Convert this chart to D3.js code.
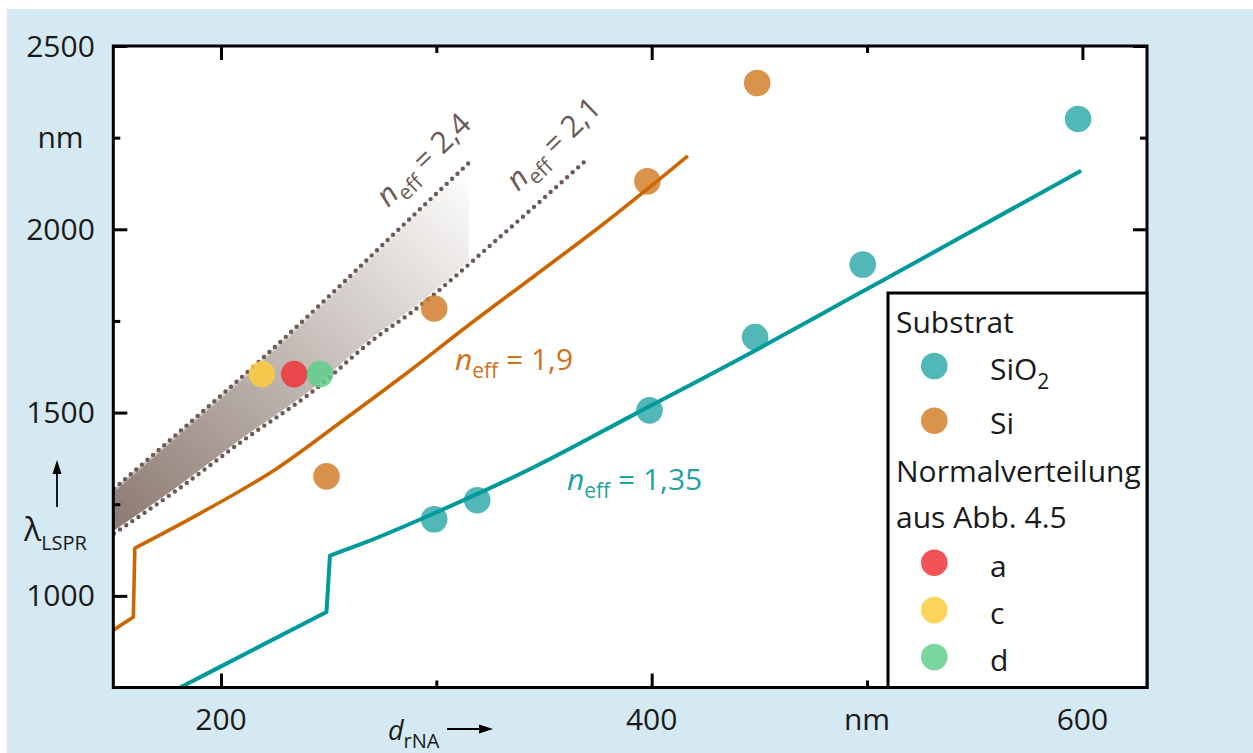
<!DOCTYPE html>
<html><head><meta charset="utf-8">
<script src="https://cdn.jsdelivr.net/npm/d3@7"></script>
<style>
body{margin:0;background:#ffffff}
svg{display:block}
text{font-family:"Open Sans","Noto Sans",sans-serif}
</style></head>
<body>
<svg id="chart" width="1253" height="753"></svg>
<script>
// ---------- data ----------
const xMajorTicks = [200, 400, 600];
const xMinorTicks = [300, 500];
const xTickLabels = [[200, "200"], [400, "400"], [500, "nm"], [600, "600"]];
const yMajorTicks = [1000, 1500, 2000, 2500];
const yMinorTicks = [1250, 1750, 2250];
const yTickLabels = [[1000, "1000"], [1500, "1500"], [2000, "2000"], [2250, "nm"], [2500, "2500"]];

// measured points: Substrat SiO2 and Si
const sio2D = [299, 319, 399, 448, 498, 598];
const sio2L = [1209, 1261, 1506, 1706, 1904, 2301];
const siD = [249, 299, 398, 449];
const siL = [1326, 1784, 2131, 2399];

// Normalverteilung aus Abb. 4.5
const normNames = ["a", "c", "d"];
const normD = [234, 219, 246];
const normL = [1605, 1605, 1605];

// simulated curves
const n135D = [181, 215, 249, 250.6, 267.6, 298.5, 345, 391.3, 445.5, 491.9, 538.3, 584.7, 599.4];
const n135L = [750, 853, 956, 1110, 1147, 1224, 1350, 1493, 1661, 1811, 1961, 2112, 2160];
const n19D = [150, 159.3, 160, 190.3, 225.8, 256.8, 287.7, 314, 344.9, 375.9, 406.8, 416.8];
const n19L = [906, 942, 1130, 1225, 1347, 1479, 1614, 1734, 1870, 2007, 2152, 2200];
const n24D = [150.3, 181, 214.8, 248.3, 283.1, 315.1];
const n24L = [1292, 1449, 1624, 1807, 2003, 2181];
const n21D = [150.3, 179.4, 210.3, 241.3, 272.3, 287.7, 329.5, 370.4];
const n21L = [1170, 1288, 1424, 1552, 1706, 1770, 1979, 2193];

// ---------- styles ----------
const C = {
  bg: "#d4e9f1",
  teal: "#009a9a", orange: "#cc6600", dots: "#6b5a55",
  tealText: "#1fa2a2", orangeText: "#d2701a",
  sio2: "#33abab", si: "#d3802c",
  norm: {a: "#f03538", c: "#fecb3d", d: "#60cf8d"}
};
const ptOpacity = 0.85;

const svg = d3.select("#chart");
const W = 1253, H = 753;
const L = 113.3, R = 1147, T = 46, B = 687.5;

const x = d3.scaleLinear().domain([150, 630]).range([L, R]);
const y = d3.scaleLinear().domain([750, 2500]).range([B, T]);

// background
svg.append("rect").attr("x", 0).attr("y", 0).attr("width", W).attr("height", H).attr("fill", "#fff");
svg.append("rect").attr("x", 7).attr("y", 9).attr("width", W - 7).attr("height", H - 9).attr("fill", C.bg);
svg.append("rect").attr("x", L).attr("y", T).attr("width", R - L).attr("height", B - T).attr("fill", "#fff");

const defs = svg.append("defs");
defs.append("clipPath").attr("id", "plotclip").append("rect")
  .attr("x", L).attr("y", T).attr("width", R - L).attr("height", B - T);
const grad = defs.append("linearGradient").attr("id", "band")
  .attr("gradientUnits", "userSpaceOnUse")
  .attr("x1", 113).attr("y1", 540).attr("x2", 470).attr("y2", 165);
grad.append("stop").attr("offset", 0).attr("stop-color", "#8a786f");
grad.append("stop").attr("offset", 0.5).attr("stop-color", "#c3bab5");
grad.append("stop").attr("offset", 1).attr("stop-color", "#ffffff");

const g = svg.append("g").attr("clip-path", "url(#plotclip)");

// shaded band between n_eff = 2.4 and 2.1
const zip = (a, b) => a.map((v, i) => [v, b[i]]);
const lowerAt = d3.scaleLinear().domain(n21D).range(n21L);
const xEnd = n24D[n24D.length - 1];
const bandPts = zip(n24D, n24L)
  .concat([[xEnd, lowerAt(xEnd)]])
  .concat(zip(n21D, n21L).filter(p => p[0] < xEnd).reverse());
g.append("path")
  .attr("d", d3.line().x(p => x(p[0])).y(p => y(p[1]))(bandPts) + "Z")
  .attr("fill", "url(#band)");

const smooth = d3.line().x(p => x(p[0])).y(p => y(p[1])).curve(d3.curveMonotoneX);
const straight = d3.line().x(p => x(p[0])).y(p => y(p[1]));
// path that keeps the mode-jumps sharp: smooth branches joined by straight steps
function jumpPath(dArr, lArr) {
  const pts = zip(dArr, lArr);
  const branches = [[pts[0]]];
  for (let i = 1; i < pts.length; i++) {
    if (pts[i][0] - pts[i - 1][0] < 3) branches.push([]);
    branches[branches.length - 1].push(pts[i]);
  }
  return branches.map((b, i) => {
    const s = b.length > 2 ? smooth(b) : straight(b);
    return i === 0 ? s : s.replace(/^M/, "L");
  }).join("");
}

// dotted curves
g.append("path").attr("d", smooth(zip(n21D, n21L)))
  .attr("fill", "none").attr("stroke", "#fff").attr("stroke-width", 5);
g.append("path").attr("d", smooth(zip(n24D, n24L)))
  .attr("fill", "none").attr("stroke", "#fff").attr("stroke-opacity", 0.45).attr("stroke-width", 5);
[[n24D, n24L], [n21D, n21L]].forEach(([d, l]) => {
  g.append("path").attr("d", smooth(zip(d, l)))
    .attr("fill", "none").attr("stroke", C.dots).attr("stroke-width", 4.4)
    .attr("stroke-linecap", "round").attr("stroke-dasharray", "0 7.4");
});

// points
const pts = g.append("g").attr("opacity", ptOpacity);
pts.selectAll("circle.sio2").data(zip(sio2D, sio2L)).join("circle")
  .attr("cx", p => x(p[0])).attr("cy", p => y(p[1])).attr("r", 13.3).attr("fill", C.sio2);
pts.selectAll("circle.si").data(zip(siD, siL)).join("circle")
  .attr("cx", p => x(p[0])).attr("cy", p => y(p[1])).attr("r", 13.3).attr("fill", C.si);
normNames.forEach((n, i) => {
  pts.append("circle").attr("cx", x(normD[i])).attr("cy", y(normL[i])).attr("r", 13.3).attr("fill", C.norm[n]);
});

// solid curves
g.append("path").attr("d", jumpPath(n19D, n19L))
  .attr("fill", "none").attr("stroke", C.orange).attr("stroke-width", 3.6).attr("stroke-linejoin", "round");
g.append("path").attr("d", jumpPath(n135D, n135L))
  .attr("fill", "none").attr("stroke", C.teal).attr("stroke-width", 4).attr("stroke-linejoin", "round");

// frame and ticks
svg.append("rect").attr("x", L).attr("y", T).attr("width", R - L).attr("height", B - T)
  .attr("fill", "none").attr("stroke", "#000").attr("stroke-width", 3);

function ticks(axisFn, scale, vals, len, transform) {
  const a = axisFn(scale).tickValues(vals).tickSize(-len).tickFormat("");
  const gg = svg.append("g").attr("transform", transform).call(a);
  gg.select(".domain").remove();
  gg.selectAll("line").attr("stroke", "#000").attr("stroke-width", 3);
}
ticks(d3.axisBottom, x, xMajorTicks, 14, `translate(0,${B})`);
ticks(d3.axisBottom, x, xMinorTicks, 7, `translate(0,${B})`);
ticks(d3.axisTop, x, xMajorTicks, 14, `translate(0,${T})`);
ticks(d3.axisTop, x, xMinorTicks, 7, `translate(0,${T})`);
ticks(d3.axisLeft, y, yMajorTicks, 14, `translate(${L},0)`);
ticks(d3.axisLeft, y, yMinorTicks, 7, `translate(${L},0)`);
ticks(d3.axisRight, y, yMajorTicks, 14, `translate(${R},0)`);
ticks(d3.axisRight, y, yMinorTicks, 7, `translate(${R},0)`);

// tick labels
xTickLabels.forEach(([v, t]) => {
  svg.append("text").attr("x", x(v)).attr("y", 730).attr("text-anchor", "middle")
    .attr("font-size", 30).attr("fill", "#1a1a1a").text(t);
});
yTickLabels.forEach(([v, t]) => {
  svg.append("text").attr("x", 60.5).attr("y", y(v) + 10.5).attr("text-anchor", "middle")
    .attr("font-size", 30).attr("fill", "#1a1a1a").text(t);
});

// axis titles
const xt = svg.append("text").attr("x", 388).attr("y", 740).attr("font-size", 27).attr("fill", "#1a1a1a");
xt.append("tspan").attr("font-style", "italic").text("d");
xt.append("tspan").attr("font-size", 20).attr("dy", 8).text("rNA");
svg.append("line").attr("x1", 447).attr("x2", 482).attr("y1", 729).attr("y2", 729).attr("stroke", "#000").attr("stroke-width", 1.8);
svg.append("path").attr("d", "M493,729 L479,724.5 L479,733.5 Z").attr("fill", "#000");

const yt = svg.append("text").attr("x", 24).attr("y", 541).attr("font-size", 32).attr("fill", "#1a1a1a");
yt.append("tspan").text("λ");
yt.append("tspan").attr("font-size", 20).attr("dy", 9).text("LSPR");
svg.append("line").attr("x1", 57).attr("x2", 57).attr("y1", 507).attr("y2", 472).attr("stroke", "#000").attr("stroke-width", 1.8);
svg.append("path").attr("d", "M57,460 L52.5,474 L61.5,474 Z").attr("fill", "#000");

// curve annotations
function neff(parent, px, py, value, color, rot) {
  const t = parent.append("text").attr("transform", `translate(${px},${py}) rotate(${rot})`)
    .attr("font-size", 30).attr("fill", color);
  t.append("tspan").attr("font-style", "italic").text("n");
  t.append("tspan").attr("font-size", 21).attr("dy", 8).text("eff");
  t.append("tspan").attr("dy", -8).text(" = " + value);
}
neff(svg, 388, 208, "2,4", C.dots, -44);
neff(svg, 518, 192, "2,1", C.dots, -44);
neff(svg, 455, 370, "1,9", C.orangeText, 0);
neff(svg, 567, 490, "1,35", C.tealText, 0);

// legend
const lg = svg.append("g");
lg.append("rect").attr("x", 888).attr("y", 293).attr("width", R - 888).attr("height", B - 293)
  .attr("fill", "#fff").attr("stroke", "#000").attr("stroke-width", 3);
const legendRows = [
  {type: "head", text: "Substrat", y: 332.7},
  {type: "item", text: "SiO", sub: "2", color: C.sio2, cy: 366, y: 380},
  {type: "item", text: "Si", color: C.si, cy: 420.7, y: 434},
  {type: "head", text: "Normalverteilung", y: 481.7},
  {type: "head", text: "aus Abb. 4.5", y: 528.3},
  {type: "item", text: "a", color: C.norm.a, cy: 562.7, y: 576.7},
  {type: "item", text: "c", color: C.norm.c, cy: 610, y: 624},
  {type: "item", text: "d", color: C.norm.d, cy: 657, y: 671}
];
legendRows.forEach(r => {
  if (r.type === "head") {
    lg.append("text").attr("x", 896).attr("y", r.y).attr("font-size", 30).attr("fill", "#1a1a1a").text(r.text);
  } else {
    lg.append("circle").attr("cx", 934.3).attr("cy", r.cy).attr("r", 13.3).attr("fill", r.color).attr("opacity", ptOpacity);
    const t = lg.append("text").attr("x", 990).attr("y", r.y).attr("font-size", 30).attr("fill", "#1a1a1a");
    t.append("tspan").text(r.text);
    if (r.sub) t.append("tspan").attr("font-size", 21).attr("dy", 9).text(r.sub);
  }
});
</script>
</body></html>
